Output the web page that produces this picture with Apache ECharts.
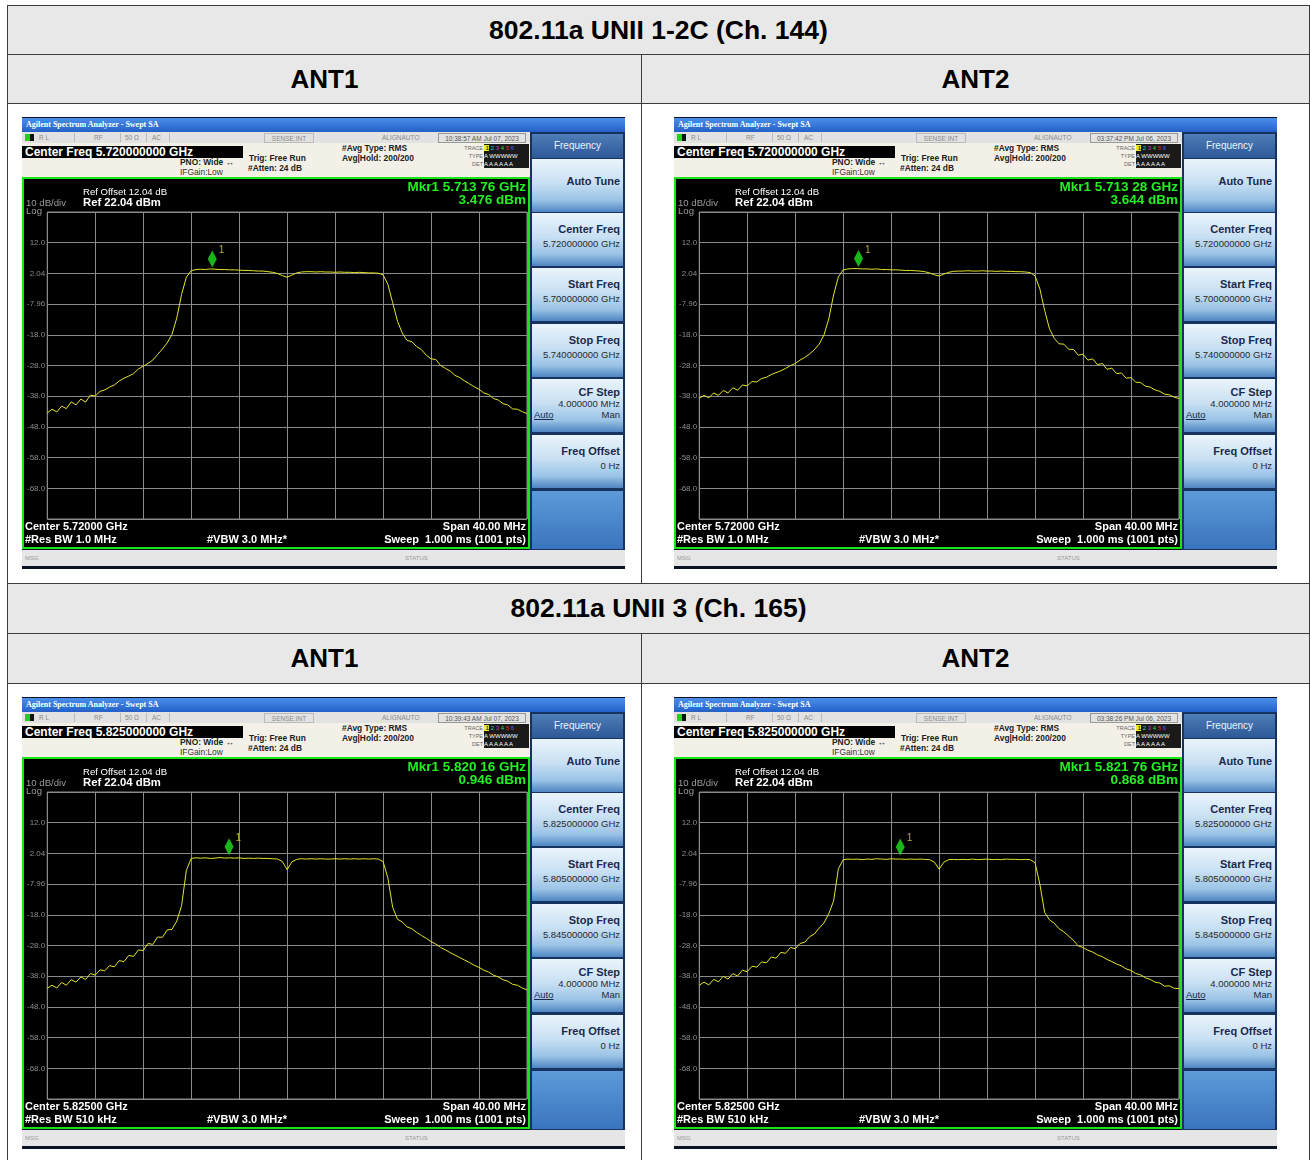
<!DOCTYPE html>
<html>
<head>
<meta charset="utf-8">
<script src="https://cdn.jsdelivr.net/npm/echarts@6/dist/echarts.min.js"></script>
<style>
  body{margin:0;background:#fff;width:1310px;height:1160px;overflow:hidden;position:relative;font-family:'Liberation Sans',Arial,sans-serif}
  .cell{position:absolute;box-sizing:border-box;border:1px solid #3c3c3c}
  .hd{background:#e8e8e8;font-weight:bold;font-size:26px;color:#000;display:flex;align-items:center;justify-content:center}
  .ttl{font-size:26.5px}
  .panel{position:absolute;width:603px;height:452px;background:#0b1424;overflow:hidden}
  .a{position:absolute;white-space:nowrap}
  .tbar{left:0;top:1px;width:603px;height:14px;background:linear-gradient(#4b8fea,#2460c8);color:#fff;font:bold 8px 'Liberation Serif',serif;line-height:14px;text-indent:4px}
  .stat{left:0;top:15px;width:508px;height:11px;background:#e2e2e2;color:#8a8a8a;font-size:6.5px;line-height:11px}
  .info{left:0;top:26px;width:508px;height:34px;background:#f3f0e7}
  .cf{left:0;top:29px;width:221px;height:12px;background:#000;color:#fff;font-weight:bold;font-size:12px;line-height:12px;text-indent:3px}
  .ib{color:#222;font-weight:bold;font-size:8.4px;line-height:10px}
  .disp{left:0;top:60px;width:508px;height:372px;box-sizing:border-box;border:2px solid #18e418;background:#000}
  .msg{left:0;top:433px;width:603px;height:16px;background:#e6e6e6;color:#999;font-size:6px;line-height:16px}
  .sk{left:508px;top:15px;width:95px;height:418px;background:#16335f}
  .skh{left:510px;top:17px;width:91px;height:24px;background:linear-gradient(#4f7db8,#2d5996);color:#eaf2ff;font-size:10px;line-height:24px;text-align:center}
  .key{position:absolute;left:510px;width:91px;height:53px;background:linear-gradient(#eaf4fc 0%,#c8e0f3 45%,#9ac3e6 78%,#4e85c2 100%)}
  .kl{position:absolute;right:3px;color:#1b2a4c;font-weight:bold;font-size:11px;line-height:12px;white-space:nowrap}
  .kv{position:absolute;right:3px;color:#2a2a2a;font-size:9.5px;line-height:10px;white-space:nowrap}
  .kb{left:510px;top:374px;width:91px;height:58px;background:linear-gradient(#5d9ad8,#3a74bf)}
  .trc{left:462px;top:27px;width:45px;height:24px;background:#1a1a1a;color:#fff;font-size:6px;line-height:8px}
</style>
</head>
<body>
<div class="cell hd ttl" style="left:7px;top:5px;width:1303px;height:50px">802.11a UNII 1-2C (Ch. 144)</div>
<div class="cell hd" style="left:7px;top:54px;width:635px;height:50px">ANT1</div>
<div class="cell hd" style="left:641px;top:54px;width:669px;height:50px">ANT2</div>
<div class="cell" style="left:7px;top:103px;width:635px;height:481px"></div>
<div class="cell" style="left:641px;top:103px;width:669px;height:481px"></div>
<div class="cell hd ttl" style="left:7px;top:583px;width:1303px;height:51px">802.11a UNII 3 (Ch. 165)</div>
<div class="cell hd" style="left:7px;top:633px;width:635px;height:51px">ANT1</div>
<div class="cell hd" style="left:641px;top:633px;width:669px;height:51px">ANT2</div>
<div class="cell" style="left:7px;top:683px;width:635px;height:490px"></div>
<div class="cell" style="left:641px;top:683px;width:669px;height:490px"></div>

<div class="panel" id="p0" style="left:22px;top:117px"></div>
<div class="panel" id="p1" style="left:674px;top:117px"></div>
<div class="panel" id="p2" style="left:22px;top:697px"></div>
<div class="panel" id="p3" style="left:674px;top:697px"></div>

<script>
// frequency offset from start frequency, MHz (span 40 MHz)
var freqOffsetMHz = [0,0.4,0.8,1.2,1.6,2,2.4,2.8,3.2,3.6,
  4,4.4,4.8,5.2,5.6,6,6.4,6.8,7.2,7.6,
  8,8.4,8.8,9.2,9.6,10,10.4,10.8,11.2,11.6,
  12,12.4,12.8,13.2,13.6,14,14.4,14.8,15.2,15.6,
  16,16.4,16.8,17.2,17.6,18,18.4,18.8,19.2,19.6,
  20,20.4,20.8,21.2,21.6,22,22.4,22.8,23.2,23.6,
  24,24.4,24.8,25.2,25.6,26,26.4,26.8,27.2,27.6,
  28,28.4,28.8,29.2,29.6,30,30.4,30.8,31.2,31.6,
  32,32.4,32.8,33.2,33.6,34,34.4,34.8,35.2,35.6,
  36,36.4,36.8,37.2,37.6,38,38.4,38.8,39.2,39.6,
  40];

// trace levels, dBm
var ant1Ch144 = [-43.4,-42.2,-43.1,-41.2,-42.0,-39.8,-40.8,-38.9,-39.9,-37.6,
  -37.9,-36.4,-35.9,-35.0,-34.3,-33.0,-32.1,-31.4,-30.6,-29.1,
  -28.2,-27.3,-26.2,-24.4,-22.6,-20.6,-17.8,-12.5,-4.8,0.8,
  2.9,3.3,3.4,3.3,3.5,3.4,3.3,3.3,3.2,3.2,
  3.1,3.0,3.0,2.9,2.8,2.8,2.6,2.4,2.0,1.3,
  0.8,1.5,2.2,2.5,2.6,2.6,2.5,2.6,2.5,2.5,
  2.4,2.5,2.4,2.4,2.3,2.4,2.3,2.2,2.2,2.1,
  1.6,-1.5,-7.5,-13.5,-17.4,-19.8,-20.2,-21.8,-22.8,-24.6,
  -25.8,-26.0,-28.0,-28.9,-29.8,-31.2,-31.9,-33.0,-33.9,-34.9,
  -35.7,-36.9,-37.4,-38.7,-39.2,-40.4,-40.8,-42.1,-42.2,-43.0,
  -43.6];
var ant2Ch144 = [-38.6,-37.7,-38.5,-36.9,-37.7,-36.1,-36.9,-35.2,-36.0,-34.3,
  -34.6,-33.2,-33.3,-32.2,-31.8,-30.9,-30.3,-29.7,-28.9,-28.0,
  -27.3,-26.2,-25.3,-24.2,-22.8,-21.0,-18.0,-12.8,-5.0,0.9,
  3.2,3.5,3.6,3.6,3.5,3.5,3.4,3.5,3.3,3.3,
  3.2,3.2,3.1,3.0,3.0,2.9,2.8,2.6,2.2,1.6,
  1.2,1.8,2.4,2.7,2.8,2.8,2.9,2.8,2.8,2.9,
  2.8,2.8,2.7,2.8,2.7,2.7,2.6,2.6,2.5,2.3,
  1.2,-3.0,-10.0,-16.0,-19.1,-20.9,-21.0,-22.7,-22.7,-24.6,
  -24.3,-26.2,-25.8,-27.7,-27.3,-29.2,-28.8,-30.6,-30.4,-32.1,
  -31.9,-33.4,-33.5,-34.7,-35.0,-35.9,-36.4,-37.3,-37.5,-38.3,
  -38.7];
var ant1Ch165 = [-41.9,-40.9,-41.8,-40.0,-40.9,-39.1,-39.9,-38.2,-39.0,-37.1,
  -37.6,-35.9,-36.2,-34.5,-34.9,-32.9,-33.2,-31.2,-31.5,-29.4,
  -29.6,-27.3,-27.6,-25.2,-25.3,-22.9,-22.7,-20.0,-15.0,-3.5,
  0.4,0.6,0.5,0.6,0.4,0.5,0.7,0.5,0.6,0.5,
  0.6,0.4,0.5,0.4,0.5,0.4,0.4,0.3,0.2,-0.6,
  -3.3,-0.7,0.1,0.3,0.2,0.3,0.2,0.3,0.2,0.2,
  0.3,0.2,0.3,0.2,0.3,0.2,0.3,0.2,0.3,0.2,
  -0.6,-6.0,-15.5,-19.4,-20.3,-21.9,-22.5,-23.7,-24.7,-25.6,
  -26.7,-27.5,-28.6,-29.4,-30.3,-31.1,-31.9,-32.7,-33.5,-34.4,
  -35.1,-36.0,-36.6,-37.6,-38.2,-39.1,-39.6,-40.6,-40.9,-41.8,
  -42.4];
var ant2Ch165 = [-40.9,-39.9,-40.8,-39.0,-39.8,-38.0,-38.9,-37.1,-37.9,-36.0,
  -36.5,-34.7,-35.0,-33.3,-33.6,-31.7,-32.1,-30.2,-30.5,-28.6,
  -29.0,-27.3,-26.9,-25.1,-24.2,-22.3,-20.6,-17.6,-13.5,-3.0,
  0.0,0.2,0.1,0.2,0.0,0.2,0.1,0.3,0.2,0.1,
  0.3,0.2,0.2,0.1,0.2,0.1,0.2,0.1,0.0,-0.8,
  -3.1,-0.8,0.0,0.1,0.0,0.1,0.0,0.2,0.0,0.1,
  0.2,0.0,0.1,0.0,0.2,0.1,0.1,0.0,0.1,0.0,
  -1.0,-8.0,-17.2,-19.6,-20.7,-22.5,-23.5,-24.9,-26.3,-28.1,
  -28.6,-29.5,-30.1,-31.0,-31.6,-32.5,-33.2,-34.0,-34.6,-35.6,
  -36.1,-37.1,-37.5,-38.5,-39.0,-39.9,-40.2,-41.2,-41.1,-41.9,
  -42.0];

var traces = [ant1Ch144, ant2Ch144, ant1Ch165, ant2Ch165];
var markerOffsetMHz = [13.76, 13.28, 15.16, 16.76];
var markerLevel = [3.476, 3.644, 0.946, 0.868];
var markerFreqText = ['5.713 76 GHz', '5.713 28 GHz', '5.820 16 GHz', '5.821 76 GHz'];
var timeStamps = ['10:38:57 AM Jul 07, 2023', '03:37:42 PM Jul 06, 2023', '10:39:43 AM Jul 07, 2023', '03:38:26 PM Jul 06, 2023'];
var centerFreq = ['5.720000000 GHz', '5.720000000 GHz', '5.825000000 GHz', '5.825000000 GHz'];
var startFreq = ['5.700000000 GHz', '5.700000000 GHz', '5.805000000 GHz', '5.805000000 GHz'];
var stopFreq = ['5.740000000 GHz', '5.740000000 GHz', '5.845000000 GHz', '5.845000000 GHz'];
var centerShort = ['5.72000 GHz', '5.72000 GHz', '5.82500 GHz', '5.82500 GHz'];
var resBW = ['1.0 MHz', '1.0 MHz', '510 kHz', '510 kHz'];
var refLevel = 22.04;

function panelHtml(i) {
  var h = '';
  h += '<div class="a tbar">Agilent Spectrum Analyzer - Swept SA</div>';
  h += '<div class="a stat">' +
    '<span class="a" style="left:3px;top:2px;width:9px;height:7px;background:linear-gradient(90deg,#22d022 50%,#111 50%)"></span>' +
    '<span class="a" style="left:17px">R L</span>' +
    '<span class="a" style="left:52px;top:1px;height:9px;border-left:1px solid #bbb"></span>' +
    '<span class="a" style="left:72px">RF</span>' +
    '<span class="a" style="left:98px;top:1px;height:9px;border-left:1px solid #bbb"></span>' +
    '<span class="a" style="left:103px">50 Ω</span>' +
    '<span class="a" style="left:124px;top:1px;height:9px;border-left:1px solid #bbb"></span>' +
    '<span class="a" style="left:130px">AC</span>' +
    '<span class="a" style="left:147px;top:1px;height:9px;border-left:1px solid #bbb"></span>' +
    '<span class="a" style="left:242px;top:1px;width:48px;height:8px;border:1px solid #bbb;line-height:9px;text-align:center">SENSE:INT</span>' +
    '<span class="a" style="left:360px">ALIGNAUTO</span>' +
    '<span class="a" style="left:416px;top:1px;width:86px;height:8px;border:1px solid #999;line-height:9px;text-align:center;color:#555">' + timeStamps[i] + '</span>' +
    '</div>';
  h += '<div class="a info"></div>';
  h += '<div class="a cf">Center Freq ' + centerFreq[i] + '</div>';
  h += '<div class="a ib" style="left:158px;top:40px">PNO: Wide <span style="font-weight:normal">↔</span></div>';
  h += '<div class="a ib" style="left:158px;top:50px;font-weight:normal;color:#333">IFGain:Low</div>';
  h += '<div class="a ib" style="left:227px;top:36px">Trig: Free Run</div>';
  h += '<div class="a ib" style="left:226px;top:46px">#Atten: 24 dB</div>';
  h += '<div class="a ib" style="left:320px;top:26px">#Avg Type: RMS</div>';
  h += '<div class="a ib" style="left:320px;top:36px">Avg|Hold: 200/200</div>';
  h += '<div class="a" style="left:438px;top:27px;color:#666;font-size:5.5px;line-height:8px;text-align:right;width:23px">TRACE<br>TYPE<br>DET</div>';
  h += '<div class="a trc">' +
    '<span style="background:#e8e830;color:#000">&nbsp;1</span> <span style="color:#2ad0d0">2</span> <span style="color:#d040d0">3</span> <span style="color:#40d040">4</span> <span style="color:#e03030">5</span> <span style="color:#4060ff">6</span><br>' +
    'A WWWWW<br>A A A A A A</div>';
  h += '<div class="a disp"><div id="c' + i + '" style="position:absolute;left:0;top:0;width:504px;height:368px"></div></div>';
  h += '<div class="a msg"><span class="a" style="left:3px">MSG</span><span class="a" style="left:383px">STATUS</span></div>';
  h += '<div class="a sk"></div>';
  h += '<div class="a skh">Frequency</div>';
  var tops = [42, 96, 151, 207, 262, 318];
  h += '<div class="key" style="top:' + tops[0] + 'px"><div class="kl" style="top:16px">Auto Tune</div></div>';
  h += '<div class="key" style="top:' + tops[1] + 'px"><div class="kl" style="top:10px">Center Freq</div><div class="kv" style="top:26px">' + centerFreq[i] + '</div></div>';
  h += '<div class="key" style="top:' + tops[2] + 'px"><div class="kl" style="top:10px">Start Freq</div><div class="kv" style="top:26px">' + startFreq[i] + '</div></div>';
  h += '<div class="key" style="top:' + tops[3] + 'px"><div class="kl" style="top:10px">Stop Freq</div><div class="kv" style="top:26px">' + stopFreq[i] + '</div></div>';
  h += '<div class="key" style="top:' + tops[4] + 'px"><div class="kl" style="top:7px">CF Step</div><div class="kv" style="top:20px">4.000000 MHz</div>' +
    '<div class="kv" style="top:31px">Man</div><div class="kv" style="top:31px;left:2px;right:auto;text-decoration:underline;color:#1b2a4c">Auto</div></div>';
  h += '<div class="key" style="top:' + tops[5] + 'px"><div class="kl" style="top:10px">Freq Offset</div><div class="kv" style="top:26px">0 Hz</div></div>';
  h += '<div class="a kb"></div>';
  return h;
}

function txt(x, y, s, font, fill, align) {
  return {
    type: 'text', x: x, y: y, silent: true,
    style: { text: s, font: font, fill: fill, align: align || 'left', textAlign: align || 'left', verticalAlign: 'middle', textVerticalAlign: 'middle' }
  };
}

function drawPanel(i) {
  document.getElementById('p' + i).innerHTML = panelHtml(i);
  var chart = echarts.init(document.getElementById('c' + i));
  var trace = traces[i];
  var ff = "'Liberation Sans', Arial, sans-serif";
  chart.setOption({
    animation: false,
    backgroundColor: '#000',
    grid: { left: 23, top: 33, right: 1, bottom: 28, show: true, borderColor: '#8a8a8a', borderWidth: 1 },
    xAxis: {
      type: 'value', min: 0, max: 40, interval: 4,
      axisLine: { show: false }, axisTick: { show: false }, axisLabel: { show: false },
      splitLine: { show: true, lineStyle: { color: '#8a8a8a', width: 1 } }
    },
    yAxis: {
      type: 'value', min: refLevel - 100, max: refLevel, interval: 10,
      axisLine: { show: false }, axisTick: { show: false },
      axisLabel: {
        color: '#8c8c8c', fontSize: 8, margin: 2, fontFamily: ff,
        formatter: function (v) {
          if (v > refLevel - 1 || v < refLevel - 99) return '';
          return Number(v).toPrecision(3);
        }
      },
      splitLine: { show: true, lineStyle: { color: '#8a8a8a', width: 1 } }
    },
    series: [
      {
        type: 'line',
        data: freqOffsetMHz.map(function (f, k) { return [f, trace[k]]; }),
        symbol: 'none',
        lineStyle: { color: '#e4e42a', width: 1 },
        silent: true
      },
      {
        type: 'scatter',
        data: [[markerOffsetMHz[i], markerLevel[i]]],
        symbol: 'diamond',
        symbolSize: [9, 17],
        symbolOffset: [0, -10],
        itemStyle: { color: '#1fe21f' },
        label: { show: true, formatter: '1', position: [11, -5], color: '#e0cf40', fontSize: 10, fontFamily: ff },
        silent: true
      }
    ],
    graphic: [
      txt(59, 13, 'Ref Offset 12.04 dB', '9.6px ' + ff, '#ffffff'),
      txt(59, 24, 'Ref 22.04 dBm', 'bold 11.3px ' + ff, '#ffffff'),
      txt(2, 24, '10 dB/div', '9.6px ' + ff, '#9a9a9a'),
      txt(2, 32, 'Log', '9.6px ' + ff, '#9a9a9a'),
      txt(502, 8, 'Mkr1 ' + markerFreqText[i], 'bold 13.5px ' + ff, '#22f022', 'right'),
      txt(502, 21, markerLevel[i].toFixed(3) + ' dBm', 'bold 13.5px ' + ff, '#22f022', 'right'),
      txt(1, 348, 'Center ' + centerShort[i], 'bold 11px ' + ff, '#ffffff'),
      txt(1, 361, '#Res BW ' + resBW[i], 'bold 11px ' + ff, '#ffffff'),
      txt(183, 361, '#VBW 3.0 MHz*', 'bold 11px ' + ff, '#ffffff'),
      txt(502, 348, 'Span 40.00 MHz', 'bold 11px ' + ff, '#ffffff', 'right'),
      txt(502, 361, 'Sweep  1.000 ms (1001 pts)', 'bold 11px ' + ff, '#ffffff', 'right')
    ]
  });
}

for (var i = 0; i < 4; i++) drawPanel(i);
</script>
</body>
</html>
